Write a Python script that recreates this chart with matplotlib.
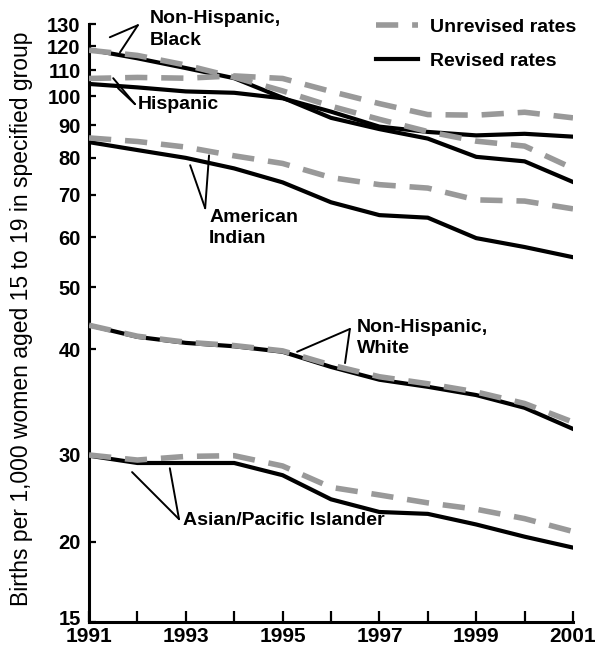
import numpy as np
import matplotlib
matplotlib.use("Agg")
import matplotlib.pyplot as plt
import matplotlib.transforms as mtransforms
from matplotlib.lines import Line2D

plt.rcParams["font.family"] = ["Liberation Sans", "DejaVu Sans"]
plt.rcParams["lines.scale_dashes"] = False

# ── Data (births per 1,000 women aged 15-19) ─────────────────────────────────
years = list(range(1991, 2002))

black_rev = [118.5, 114.8, 110.8, 106.8, 99.5, 92.5, 88.8, 85.8, 80.3, 79.0, 73.3]
black_unrev = [118.2, 116.0, 112.0, 107.2, 102.0, 96.5, 92.0, 88.0, 85.0, 83.5, 77.0]
hisp_rev = [104.6, 103.3, 101.8, 101.3, 99.3, 94.6, 89.6, 87.9, 86.8, 87.3, 86.4]
hisp_unrev = [106.7, 107.1, 106.8, 107.7, 106.7, 101.8, 97.4, 93.6, 93.4, 94.4, 92.5]
amind_rev = [84.7, 82.3, 80.0, 77.0, 73.2, 68.1, 65.0, 64.4, 59.8, 57.9, 55.8]
amind_unrev = [86.0, 84.9, 83.2, 80.6, 78.4, 74.5, 72.6, 71.7, 68.7, 68.4, 66.5]
white_rev = [43.6, 41.8, 40.9, 40.4, 39.7, 38.1, 36.8, 36.1, 35.3, 34.1, 32.2]
white_unrev = [43.6, 41.9, 41.0, 40.5, 39.8, 38.3, 37.1, 36.4, 35.6, 34.5, 32.8]
asian_rev = [29.9, 28.9, 28.9, 28.9, 27.3, 24.4, 23.0, 22.8, 21.7, 20.5, 19.6]
asian_unrev = [30.0, 29.3, 29.8, 29.9, 28.5, 25.8, 24.9, 24.0, 23.3, 22.3, 21.0]

y_ticks = [15, 20, 30, 40, 50, 60, 70, 80, 90, 100, 110, 120, 130]

# ── Y scale: log-like, but the printed 20-40 band is unevenly spaced ─────────
scale_vals = np.array([15, 20, 30, 40, 130])
scale_frac = np.array([0.0, 0.1338, 0.2793, 0.4565, 1.0])
lv = np.log(scale_vals)
lo_slope = (scale_frac[1] - scale_frac[0]) / (lv[1] - lv[0])
hi_slope = (scale_frac[-1] - scale_frac[-2]) / (lv[-1] - lv[-2])
lv_ext = np.concatenate([[lv[0] - 3], lv, [lv[-1] + 3]])
fr_ext = np.concatenate([[-3 * lo_slope], scale_frac, [1.0 + 3 * hi_slope]])


def fwd(v):
    v = np.asarray(v, dtype=float)
    return np.interp(np.log(np.clip(v, 1e-6, None)), lv_ext, fr_ext)


def inv(f):
    return np.exp(np.interp(np.asarray(f, dtype=float), fr_ext, lv_ext))


# ── Plot ──────────────────────────────────────────────────────────────────────
fig = plt.figure(figsize=(5.96, 6.51), dpi=100)
ax = fig.add_axes([89 / 596, 29 / 651, 484 / 596, 598 / 651])
ax.set_yscale("function", functions=(fwd, inv))

solid = dict(color="black", lw=3.0, solid_joinstyle="round", zorder=2)
dashed = dict(color="#999999", lw=4.0, dashes=(16, 10), zorder=3)

for rev, unrev in [
    (black_rev, black_unrev),
    (hisp_rev, hisp_unrev),
    (amind_rev, amind_unrev),
    (white_rev, white_unrev),
    (asian_rev, asian_unrev),
]:
    ax.plot(years, rev, **solid)
    ax.plot(years, unrev, **dashed)

ax.set_xlim(1991, 2001)
ax.set_ylim(15, 130)
ax.set_yticks(y_ticks)
ax.set_yticklabels([str(t) for t in y_ticks])
ax.set_xticks(years)
ax.set_xticklabels([str(y) if y % 2 == 1 else "" for y in years])
ax.minorticks_off()

for s in ["top", "right"]:
    ax.spines[s].set_visible(False)
for s in ["left", "bottom"]:
    ax.spines[s].set_linewidth(2.2)
ax.tick_params(axis="y", direction="in", length=5, width=1.6, pad=6,
               labelsize=14.5)
ax.tick_params(axis="x", direction="in", length=8, width=1.6, pad=3.5,
               labelsize=15)
for lab in ax.get_xticklabels() + ax.get_yticklabels():
    lab.set_fontweight("bold")
# lift the bottom "15" a little so it sits just above "1991"
bottom_lab = ax.get_yticklabels()[0]
bottom_lab.set_transform(bottom_lab.get_transform()
                         + mtransforms.ScaledTranslation(0, 3 / 72, fig.dpi_scale_trans))

fig.text(22 / 596, 0.511, "Births per 1,000 women aged 15 to 19 in specified group",
         rotation=90, ha="center", va="center", fontsize=16.5)

# ── Group labels with leader lines ───────────────────────────────────────────
lbl = dict(fontsize=14, fontweight="bold", ha="left", va="top",
           linespacing=1.35, transform=ax.transAxes, clip_on=False)
leader = dict(arrowstyle="-", lw=1.4, color="black", shrinkA=0, shrinkB=0)

ax.text(0.126, 1.023, "Non-Hispanic,\nBlack", **lbl)
for xy in [(1991.43, 123.9), (1991.64, 117.3)]:
    ax.annotate("", xy=xy, xytext=(0.101, 0.998), textcoords="axes fraction",
                arrowprops=leader, annotation_clip=False)

ax.text(0.101, 0.880, "Hispanic", **lbl)
for xy in [(1991.50, 106.8), (1991.60, 103.0)]:
    ax.annotate("", xy=xy, xytext=(0.095, 0.866), textcoords="axes fraction",
                arrowprops=leader)

ax.text(0.248, 0.691, "American\nIndian", **lbl)
for xy in [(1993.09, 77.9), (1993.48, 80.7)]:
    ax.annotate("", xy=xy, xytext=(0.240, 0.692), textcoords="axes fraction",
                arrowprops=leader)

ax.text(0.554, 0.507, "Non-Hispanic,\nWhite", **lbl)
for xy in [(1995.30, 39.7), (1996.29, 38.5)]:
    ax.annotate("", xy=xy, xytext=(0.539, 0.490), textcoords="axes fraction",
                arrowprops=leader)

ax.text(0.194, 0.184, "Asian/Pacific Islander", **lbl)
for xy in [(1991.89, 27.7), (1992.67, 28.2)]:
    ax.annotate("", xy=xy, xytext=(0.186, 0.172), textcoords="axes fraction",
                arrowprops=leader)

# ── Legend ────────────────────────────────────────────────────────────────────
handles = [Line2D([], [], **dashed), Line2D([], [], **solid)]
leg = ax.legend(handles, ["Unrevised rates", "Revised rates"],
                loc="upper left", bbox_to_anchor=(0.593, 1.010),
                frameon=False, borderpad=0, borderaxespad=0,
                handlelength=2.16, handletextpad=0.62, labelspacing=0.85,
                prop=dict(size=14, weight="bold"))

fig.savefig("out.png", dpi=100)
